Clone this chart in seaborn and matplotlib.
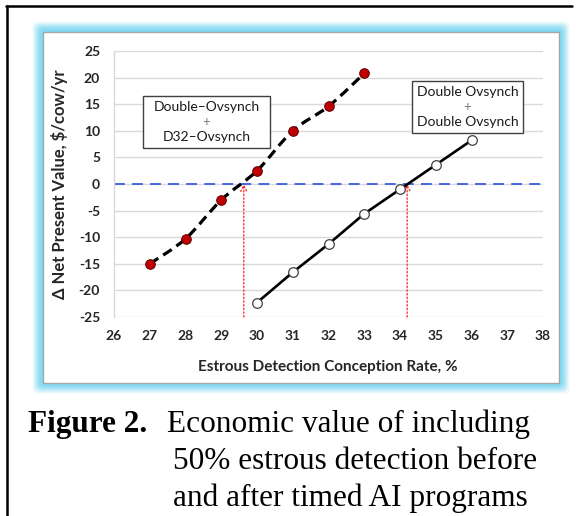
import numpy as np
import pandas as pd
import seaborn as sns
import matplotlib
matplotlib.use("Agg")
import matplotlib.pyplot as plt
from matplotlib.patches import Rectangle, FancyBboxPatch, PathPatch
from matplotlib.path import Path

# ---------------- data ----------------
rate_d32 = [27, 28, 29, 30, 31, 32, 33]
npv_d32 = [-15.0, -10.3, -3.0, 2.5, 10.0, 14.6, 20.8]
rate_dd = [30, 31, 32, 33, 34, 35, 36]
npv_dd = [-22.3, -16.6, -11.3, -5.6, -1.0, 3.6, 8.2]
breakeven_x = [29.63, 34.2]
x_ticks = list(range(26, 39))
y_ticks = list(range(-25, 30, 5))
label_d32 = ["Double\u2013Ovsynch", "+", "D32\u2013Ovsynch"]
label_dd = ["Double Ovsynch", "+", "Double Ovsynch"]
y_title = "\u0394 Net Present Value, $/cow/yr"
x_title = "Estrous Detection Conception Rate, %"

sns.set_theme(style="white")
plt.rcParams["font.family"] = ["Lato", "DejaVu Sans"]

W, H = 576, 516
fig = plt.figure(figsize=(W / 100, H / 100), dpi=100)
fig.patch.set_facecolor("white")


def fx(x):
    return x / W


def fy(y):
    return 1 - y / H


# outer black frame (top and left lines only)
fig.add_artist(plt.Line2D([fx(6), fx(572)], [fy(6), fy(6)], color="black", lw=1.8,
                          transform=fig.transFigure, zorder=-5))
fig.add_artist(plt.Line2D([fx(7), fx(7)], [fy(6), fy(516)], color="black", lw=1.8,
                          transform=fig.transFigure, zorder=-5))

# chart area glow + white box
bx0, by0, bx1, by1 = 43, 32, 559, 383
for i, off in enumerate(range(11, 0, -1)):
    a = 0.14 + 0.1 * i
    fig.add_artist(FancyBboxPatch((fx(bx0 - off), fy(by1 + off)),
                                  fx(bx1 - bx0 + 2 * off), (by1 - by0 + 2 * off) / H,
                                  boxstyle="round,pad=0,rounding_size=0.012",
                                  transform=fig.transFigure, facecolor="#7fd8f3",
                                  edgecolor="none", alpha=min(a, 1.0) * 0.42, zorder=-10))
fig.add_artist(Rectangle((fx(bx0), fy(by1)), fx(bx1 - bx0), (by1 - by0) / H,
                         transform=fig.transFigure, facecolor="white",
                         edgecolor="#a6a6a6", lw=1.0, zorder=-4))

# axes
ax_l, ax_r, ax_t, ax_b = 114, 543, 51, 317
ax = fig.add_axes([fx(ax_l), fy(ax_b), fx(ax_r - ax_l), (ax_b - ax_t) / H])
ax.set_facecolor("none")
ax.set_zorder(2)

df_dd = pd.DataFrame({"rate": rate_dd, "npv": npv_dd})
df_d32 = pd.DataFrame({"rate": rate_d32, "npv": npv_d32})

# horizontal gridlines
for yv in y_ticks:
    ax.axhline(yv, color="#d9d9d9", lw=1.0, zorder=0)

# zero reference line
ax.axhline(0, color="#3a5be0", lw=1.3, dashes=(6, 4), zorder=2)

# smooth dashed curve for D32 series (Bezier through data points)
xs, ys = rate_d32, npv_d32
verts = [(xs[0], ys[0])]
codes = [Path.MOVETO]
n = len(xs)
for i in range(n - 1):
    p0 = (xs[i - 1], ys[i - 1]) if i > 0 else (xs[i], ys[i])
    p1 = (xs[i], ys[i])
    p2 = (xs[i + 1], ys[i + 1])
    p3 = (xs[i + 2], ys[i + 2]) if i + 2 < n else p2
    c1 = (p1[0] + (p2[0] - p0[0]) / 6, p1[1] + (p2[1] - p0[1]) / 6)
    c2 = (p2[0] - (p3[0] - p1[0]) / 6, p2[1] - (p3[1] - p1[1]) / 6)
    verts += [c1, c2, p2]
    codes += [Path.CURVE4] * 3
ax.add_patch(PathPatch(Path(verts, codes), facecolor="none", edgecolor="black",
                       lw=2.3, linestyle=(0, (3.2, 1.8)), zorder=3))

# solid line series
sns.lineplot(data=df_dd, x="rate", y="npv", ax=ax, color="black", lw=1.9, zorder=3)

# markers
sns.scatterplot(data=df_d32, x="rate", y="npv", ax=ax, color="#c00000", s=48,
                edgecolor="#5a0000", linewidth=0.7, zorder=4)
sns.scatterplot(data=df_dd, x="rate", y="npv", ax=ax, color="white", s=48,
                edgecolor="#404040", linewidth=0.9, zorder=4)

# break-even arrows
for bx in breakeven_x:
    ax.annotate("", xy=(bx, 0), xytext=(bx, -25),
                arrowprops=dict(arrowstyle="->,head_length=0.35,head_width=0.18",
                                color="#ff3030", lw=1.0, linestyle=":",
                                shrinkA=0, shrinkB=0), zorder=2)

# annotation boxes (pixel layout -> axes fraction)
def box(px0, py0, px1, py1, lines):
    x0 = (px0 - ax_l) / (ax_r - ax_l)
    x1 = (px1 - ax_l) / (ax_r - ax_l)
    y0 = (ax_b - py1) / (ax_b - ax_t)
    y1 = (ax_b - py0) / (ax_b - ax_t)
    ax.add_patch(Rectangle((x0, y0), x1 - x0, y1 - y0, transform=ax.transAxes,
                           facecolor="white", edgecolor="#404040", lw=1.0, zorder=5))
    cx, cy = (x0 + x1) / 2, (y0 + y1) / 2
    dy = 15 / (ax_b - ax_t)
    ax.text(cx, cy + dy, lines[0], transform=ax.transAxes, ha="center", va="center",
            fontsize=10, color="#1a1a1a", zorder=6)
    ax.text(cx, cy, lines[1], transform=ax.transAxes, ha="center", va="center",
            fontsize=9.5, color="#7f7f7f", zorder=6)
    ax.text(cx, cy - dy, lines[2], transform=ax.transAxes, ha="center", va="center",
            fontsize=10, color="#1a1a1a", zorder=6)


box(143, 96, 270, 148, label_d32)
box(412, 81, 523, 133, label_dd)

ax.set_xlim(26, 38)
ax.set_ylim(-25, 25)
ax.set_xticks(x_ticks)
ax.set_yticks(y_ticks)
ax.set_xticklabels([str(v) for v in x_ticks], fontweight="bold", fontsize=10, color="#262626")
ax.set_yticklabels([str(v) for v in y_ticks], fontweight="bold", fontsize=10, color="#262626")
ax.tick_params(axis="both", length=0)
ax.tick_params(axis="y", pad=10)
ax.tick_params(axis="x", pad=9)
for s in ["top", "right", "bottom"]:
    ax.spines[s].set_visible(False)
ax.spines["left"].set_color("#d9d9d9")
ax.spines["left"].set_linewidth(1.0)
ax.set_xlabel("")
ax.set_ylabel("")
ax.grid(False)

fig.text(fx(59), fy((ax_t + ax_b) / 2), y_title, rotation=90, ha="center", va="center",
         fontsize=12, fontweight="bold", color="#262626")
fig.text(fx(328), fy(367), x_title, ha="center", va="center",
         fontsize=11, fontweight="bold", color="#262626")

# caption
serif = ["Liberation Serif", "DejaVu Serif"]
cap_fs = 22.5
fig.text(fx(28), fy(432), "Figure 2.", ha="left", va="baseline", fontsize=cap_fs,
         fontweight="bold", family=serif, color="black")
fig.text(fx(167), fy(432), "Economic value of including", ha="left", va="baseline",
         fontsize=cap_fs, family=serif, color="black")
fig.text(fx(173), fy(469), "50% estrous detection before", ha="left", va="baseline",
         fontsize=cap_fs, family=serif, color="black")
fig.text(fx(173), fy(506), "and after timed AI programs", ha="left", va="baseline",
         fontsize=cap_fs, family=serif, color="black")

fig.savefig("out.png", dpi=100)
